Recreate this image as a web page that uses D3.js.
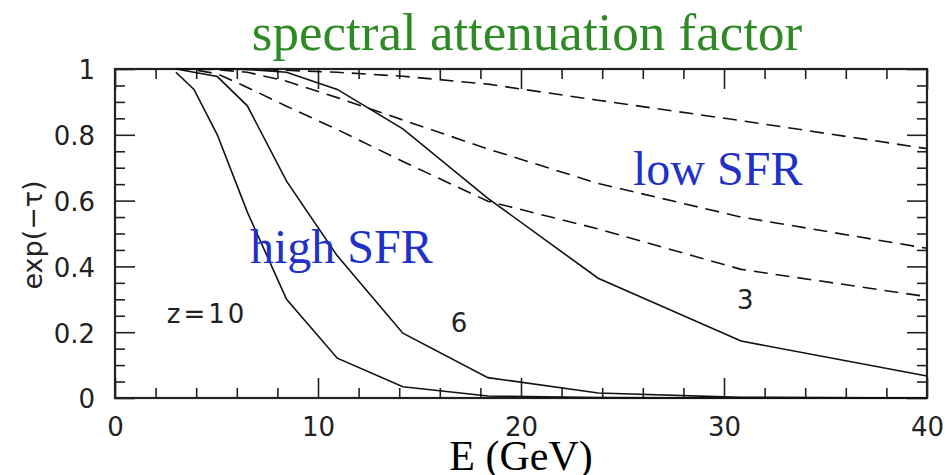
<!DOCTYPE html>
<html>
<head>
<meta charset="utf-8">
<script src="https://cdn.jsdelivr.net/npm/d3@7"></script>
<style>
  html, body { margin: 0; padding: 0; background: #fff; }
  svg { display: block; }
</style>
</head>
<body>
<svg id="chart" width="947" height="475"></svg>
<script>
// ---- data ----
const energies = [3, 3.89, 5.04, 6.52, 8.45, 10.95, 14.18, 18.37, 23.8, 30.84, 40];
// high SFR (solid)
const highZ10 = [0.99, 0.938, 0.80, 0.565, 0.30, 0.121, 0.034, 0.006, 0.001, 0, 0];
const highZ6  = [1, 0.99, 0.977, 0.888, 0.659, 0.432, 0.197, 0.062, 0.015, 0.002, 0];
const highZ3  = [1, 1, 1, 0.999, 0.99, 0.938, 0.818, 0.607, 0.364, 0.173, 0.067];
// low SFR (dashed)
const lowZ3  = [1, 1, 1, 0.999, 0.996, 0.99, 0.978, 0.954, 0.905, 0.843, 0.758];
const lowZ6  = [1, 1, 0.998, 0.99, 0.963, 0.913, 0.845, 0.757, 0.652, 0.55, 0.455];
const lowZ10 = [1, 0.998, 0.985, 0.944, 0.887, 0.816, 0.719, 0.598, 0.514, 0.391, 0.308];

const xMajorTicks = [0, 10, 20, 30, 40];
const xMinorTicks = [2, 4, 6, 8, 12, 14, 16, 18, 22, 24, 26, 28, 32, 34, 36, 38];
const yMajorTicks = [0, 0.2, 0.4, 0.6, 0.8, 1];
const yMinorTicks = [0.05, 0.1, 0.15, 0.25, 0.3, 0.35, 0.45, 0.5, 0.55, 0.65, 0.7, 0.75, 0.85, 0.9, 0.95];

const titleText = "spectral attenuation factor";
const xLabelText = "E (GeV)";
const yLabelText = "exp(\u2212\u03c4)";
const curveLabels = [
  { text: "z=10", E: 2.55, v: 0.228, anchor: "start" },
  { text: "6", E: 16.95, v: 0.2, anchor: "middle" },
  { text: "3", E: 31.05, v: 0.27, anchor: "middle" }
];

// ---- layout ----
const plotLeft = 115, plotRight = 927, plotTop = 69, plotBottom = 398;
const svg = d3.select("#chart");
const x = d3.scaleLinear().domain([0, 40]).range([plotLeft, plotRight]);
const y = d3.scaleLinear().domain([0, 1]).range([plotBottom, plotTop]);

const tickFont = "'DejaVu Sans', sans-serif";
const serif = "'Liberation Serif', 'Times New Roman', serif";

function styleAxis(g) {
  g.select(".domain").remove();
  g.selectAll(".tick line").attr("stroke", "#222").attr("stroke-width", 1.6);
  g.selectAll(".tick text").attr("font-family", tickFont).attr("font-size", 26).attr("fill", "#222");
}

// bottom
svg.append("g").attr("transform", `translate(0,${plotBottom})`)
  .call(d3.axisBottom(x).tickValues(xMajorTicks).tickSize(-20).tickPadding(20).tickFormat(d => String(d)))
  .call(styleAxis);
svg.append("g").attr("transform", `translate(0,${plotBottom})`)
  .call(d3.axisBottom(x).tickValues(xMinorTicks).tickSize(-10).tickFormat(""))
  .call(styleAxis);
// top
svg.append("g").attr("transform", `translate(0,${plotTop})`)
  .call(d3.axisTop(x).tickValues(xMajorTicks).tickSize(-20).tickFormat(""))
  .call(styleAxis);
svg.append("g").attr("transform", `translate(0,${plotTop})`)
  .call(d3.axisTop(x).tickValues(xMinorTicks).tickSize(-10).tickFormat(""))
  .call(styleAxis);
// left
const gl = svg.append("g").attr("transform", `translate(${plotLeft},0)`)
  .call(d3.axisLeft(y).tickValues(yMajorTicks).tickSize(-20).tickPadding(20).tickFormat(d => String(d)))
  .call(styleAxis);
gl.selectAll(".tick text").attr("dy", "0.38em");
svg.append("g").attr("transform", `translate(${plotLeft},0)`)
  .call(d3.axisLeft(y).tickValues(yMinorTicks).tickSize(-10).tickFormat(""))
  .call(styleAxis);
// right
svg.append("g").attr("transform", `translate(${plotRight},0)`)
  .call(d3.axisRight(y).tickValues(yMajorTicks).tickSize(-20).tickFormat(""))
  .call(styleAxis);
svg.append("g").attr("transform", `translate(${plotRight},0)`)
  .call(d3.axisRight(y).tickValues(yMinorTicks).tickSize(-10).tickFormat(""))
  .call(styleAxis);

// frame
svg.append("rect")
  .attr("x", x(0)).attr("y", y(1))
  .attr("width", x(40) - x(0)).attr("height", y(0) - y(1))
  .attr("fill", "none").attr("stroke", "#222").attr("stroke-width", 2.2);

// curves
const line = d3.line().x(d => x(d[0])).y(d => y(d[1]));
const series = [
  { vals: highZ10, dash: null },
  { vals: highZ6, dash: null },
  { vals: highZ3, dash: null },
  { vals: lowZ3, dash: "14,8" },
  { vals: lowZ6, dash: "14,8" },
  { vals: lowZ10, dash: "14,8" }
];
svg.append("g").selectAll("path").data(series).join("path")
  .attr("d", s => line(energies.map((e, i) => [e, s.vals[i]])))
  .attr("fill", "none")
  .attr("stroke", "#111")
  .attr("stroke-width", 1.6)
  .attr("stroke-dasharray", s => s.dash);

// curve labels
svg.append("g").selectAll("text").data(curveLabels).join("text")
  .attr("x", d => x(d.E)).attr("y", d => y(d.v))
  .attr("text-anchor", d => d.anchor)
  .attr("font-family", tickFont).attr("font-size", 26).attr("fill", "#222")
  .attr("letter-spacing", d => d.text.length > 1 ? 3 : 0)
  .text(d => d.text);

// title
svg.append("text").attr("x", 527).attr("y", 50).attr("text-anchor", "middle")
  .attr("font-family", serif).attr("font-size", 53).attr("fill", "#2f8a26")
  .text(titleText);

// x label
svg.append("text").attr("x", 521).attr("y", 470).attr("text-anchor", "middle")
  .attr("font-family", serif).attr("font-size", 42).attr("fill", "#000")
  .text(xLabelText);

// y label
svg.append("text").attr("transform", "translate(42,235) rotate(-90)")
  .attr("text-anchor", "middle")
  .attr("font-family", tickFont).attr("font-size", 27).attr("fill", "#222")
  .text(yLabelText);

// annotations
svg.append("text").attr("x", 250).attr("y", 263)
  .attr("font-family", serif).attr("font-size", 48).attr("fill", "#2030c8")
  .text("high SFR");
svg.append("text").attr("x", 633).attr("y", 185)
  .attr("font-family", serif).attr("font-size", 48).attr("fill", "#2030c8")
  .text("low SFR");
</script>
</body>
</html>
